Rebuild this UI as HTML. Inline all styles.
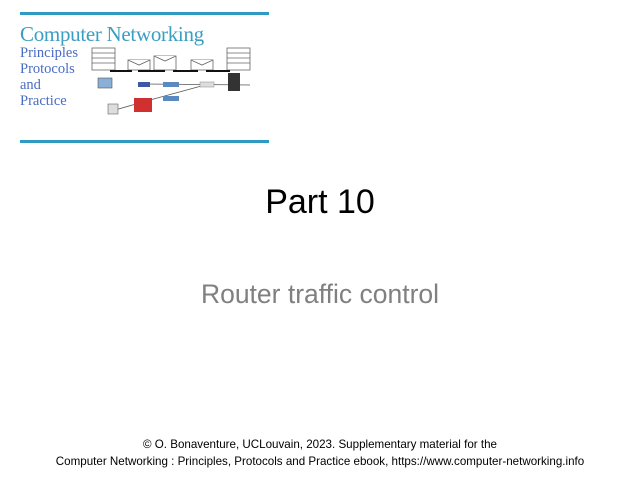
<!DOCTYPE html>
<html><head><meta charset="utf-8"><style>
body{margin:0;width:640px;height:480px;background:#fff;position:relative;overflow:hidden;font-family:"Liberation Sans",sans-serif}
.a{position:absolute}
.hl{position:absolute;left:20px;width:249px;height:3px;background:#2f9bc2}
.serif{font-family:"Liberation Serif",serif}
</style></head><body>
<div class="hl" style="top:12px"></div>
<div class="hl" style="top:140px"></div>
<div class="a serif" style="left:20px;top:22px;font-size:21px;color:#3a9ec2;letter-spacing:-0.3px">Computer Networking</div>
<div class="a serif" style="left:20px;top:45px;font-size:14.5px;line-height:16px;color:#4a6cc4">Principles<br>Protocols<br>and<br>Practice</div>
<svg class="a" style="left:0;top:0" width="280" height="140">
<g fill="#fff" stroke="#666" stroke-width="0.8">
<rect x="92" y="48" width="23" height="22"/><line x1="92" y1="53" x2="115" y2="53"/><line x1="92" y1="58" x2="115" y2="58"/><line x1="92" y1="63" x2="115" y2="63"/>
<rect x="227" y="48" width="23" height="22"/><line x1="227" y1="53" x2="250" y2="53"/><line x1="227" y1="58" x2="250" y2="58"/><line x1="227" y1="63" x2="250" y2="63"/>
<rect x="128" y="60" width="22" height="10"/><polyline points="128,60 139,65 150,60"/>
<rect x="154" y="56" width="22" height="14"/><polyline points="154,56 165,61 176,56"/>
<rect x="191" y="60" width="22" height="10"/><polyline points="191,60 202,65 213,60"/>
</g>
<g stroke="#111" stroke-width="2"><line x1="110" y1="71" x2="132" y2="71"/><line x1="138" y1="71" x2="165" y2="71"/><line x1="173" y1="71" x2="198" y2="71"/><line x1="206" y1="71" x2="230" y2="71"/></g>
<g stroke="#555" stroke-width="0.8" fill="none"><line x1="145" y1="84" x2="250" y2="85"/><line x1="205" y1="85" x2="150" y2="100"/><line x1="150" y1="100" x2="115" y2="110"/></g>
<rect x="98" y="78" width="14" height="10" fill="#8ab0d8" stroke="#555" stroke-width="0.6"/>
<rect x="138" y="82" width="12" height="5" fill="#3b5aa0"/>
<rect x="163" y="82" width="16" height="5" fill="#5b8ac0"/>
<rect x="200" y="82" width="14" height="5" fill="#ddd" stroke="#888" stroke-width="0.5"/>
<rect x="228" y="73" width="12" height="18" fill="#333"/>
<rect x="134" y="98" width="18" height="14" fill="#d03030"/>
<rect x="163" y="96" width="16" height="5" fill="#5b8ac0"/>
<rect x="108" y="104" width="10" height="10" fill="#ddd" stroke="#666" stroke-width="0.6"/>
</svg>
<div class="a" style="left:0;width:640px;top:183px;text-align:center;font-size:34px;color:#000">Part 10</div>
<div class="a" style="left:0;width:640px;top:279px;text-align:center;font-size:26.5px;color:#808080">Router traffic control</div>
<div class="a" style="left:0;width:640px;top:437px;text-align:center;font-size:11.6px;line-height:16.5px;color:#000">© O. Bonaventure, UCLouvain, 2023. Supplementary material for the<br>Computer Networking : Principles, Protocols and Practice ebook, https://www.computer-networking.info</div>
</body></html>
